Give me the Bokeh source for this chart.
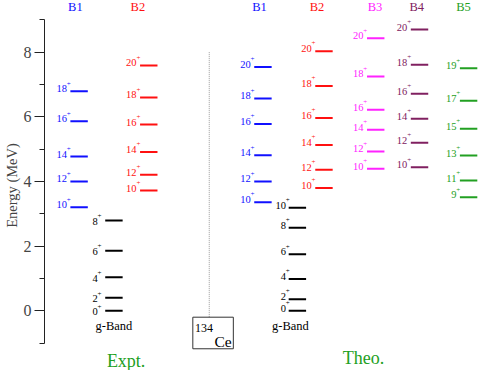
from bokeh.plotting import figure
from bokeh.models import Range1d, FixedTicker, ColumnDataSource
from bokeh.core.properties import value
from bokeh.embed import file_html
from bokeh.resources import INLINE

FONT = "'Liberation Serif'"
FONT_AX = "Times New Roman"
YFIX = -4.5   # correction of the alphabetic baseline placement (px)

# ---- level data (energies in MeV) ----
expt_g_spin = [0, 2, 4, 6, 8]
expt_g_E = [0.00, 0.40, 1.04, 1.86, 2.79]
expt_b1_spin = [10, 12, 14, 16, 18]
expt_b1_E = [3.20, 4.00, 4.77, 5.86, 6.79]
expt_b2_spin = [10, 12, 14, 16, 18, 20]
expt_b2_E = [3.72, 4.21, 4.91, 5.76, 6.60, 7.59]

theo_g_spin = [0, 2, 4, 6, 8, 10]
theo_g_E = [0.00, 0.36, 0.98, 1.75, 2.57, 3.19]
theo_b1_spin = [10, 12, 14, 16, 18, 20]
theo_b1_E = [3.36, 4.00, 4.81, 5.78, 6.57, 7.54]
theo_b2_spin = [10, 12, 14, 16, 18, 20]
theo_b2_E = [3.80, 4.36, 5.13, 5.96, 6.95, 8.03]
theo_b3_spin = [10, 12, 14, 16, 18, 20]
theo_b3_E = [4.39, 4.93, 5.60, 6.22, 7.25, 8.43]
theo_b4_spin = [10, 12, 14, 16, 18, 20]
theo_b4_E = [4.44, 5.20, 5.94, 6.71, 7.61, 8.70]
theo_b5_spin = [9, 11, 13, 15, 17, 19]
theo_b5_E = [3.51, 4.03, 4.80, 5.63, 6.50, 7.50]

y_ticks = [0, 2, 4, 6, 8]
y_minor = [-1, 1, 3, 5, 7, 9]

BLUE = "#1010ff"
RED = "#ff1010"
BLACK = "#000000"
MAG = "#ff22ff"
PURPLE = "#802060"
GREEN = "#22a022"

# name, line start x, colour, spins, energies, header x, label dx, label dy
bands = [
    ("B1", 68.0, BLUE, expt_b1_spin, expt_b1_E, 73.0, 0, 0),
    (None, 103.0, BLACK, expt_g_spin, expt_g_E, None, -4.0, 3.5),
    ("B2", 138.0, RED, expt_b2_spin, expt_b2_E, 135.8, 0, 0),
    ("B1", 252.7, BLUE, theo_b1_spin, theo_b1_E, 258.0, 0, 0),
    (None, 287.3, BLACK, theo_g_spin, theo_g_E, None, 0.8, 0),
    ("B2", 314.0, RED, theo_b2_spin, theo_b2_E, 315.8, 0, 0),
    ("B3", 366.0, MAG, theo_b3_spin, theo_b3_E, 374.0, 0, 0),
    ("B4", 410.0, PURPLE, theo_b4_spin, theo_b4_E, 416.0, 0, 0),
    ("B5", 459.3, GREEN, theo_b5_spin, theo_b5_E, 463.0, 0, 0),
]
LINE_LEN = 17.5

p = figure(width=479, height=370, output_backend="svg", toolbar_location=None,
           x_range=Range1d(42, 479), y_range=Range1d(-1.847, 9.598),
           x_axis_type=None, min_border_left=42, min_border_right=0,
           min_border_top=0, min_border_bottom=0)
p.outline_line_color = None
p.ygrid.grid_line_color = None
p.background_fill_color = "white"

ax = p.yaxis[0]
ax.bounds = (-1, 9)
ax.ticker = FixedTicker(ticks=y_ticks, minor_ticks=y_minor)
ax.axis_label = "Energy (MeV)"
ax.axis_label_text_font = FONT_AX
ax.axis_label_text_font_style = "normal"
ax.axis_label_text_font_size = "14.5px"
ax.axis_label_standoff = 1
ax.major_label_text_font = FONT_AX
ax.major_label_text_font_size = "16px"
ax.major_label_standoff = 3
ax.major_tick_in = 0
ax.major_tick_out = 10
ax.minor_tick_in = 0
ax.minor_tick_out = 5
ax.axis_line_color = "#222222"
ax.major_tick_line_color = "#222222"
ax.minor_tick_line_color = "#222222"


def txt(**kw):
    kw.setdefault("text_font", value(FONT))
    kw.setdefault("text_baseline", "alphabetic")
    return p.text(**kw)


for name, x0, col, spins, E, hx, ldx, ldy in bands:
    n = len(E)
    src = ColumnDataSource(dict(x0=[x0] * n, x1=[x0 + LINE_LEN] * n, y=E,
                                lab=[str(s) for s in spins]))
    p.segment("x0", "y", "x1", "y", source=src, line_color=col, line_width=2)
    txt(x="x0", y="y", text="lab", source=src, x_offset=-3.5 + ldx, y_offset=2 + ldy + YFIX,
        text_align="right", text_font_size="10.5px", text_color=col)
    txt(x="x0", y="y", text=value("+"), source=src, x_offset=-1.7 + ldx, y_offset=-7.7 + ldy,
        text_align="center", text_baseline="middle", text_font_size="7px", text_color=col)
    if name:
        txt(x=[hx], y=[9.27], text=[name], y_offset=YFIX, text_align="center",
            text_font_size="12.5px", text_color=col)

# g-Band captions
txt(x=[111.7, 289.0], y=[-0.61, -0.61], text=["g-Band", "g-Band"], y_offset=YFIX,
    text_align="center", text_font_size="12.5px", text_color=BLACK)
# Expt / Theo captions
txt(x=[124.0, 362.5], y=[-1.70, -1.59], text=["Expt.", "Theo."], y_offset=YFIX,
    text_align="center", text_font_size="18px", text_color=GREEN)

# separator and nucleus box
p.segment(x0=[207.5], y0=[8.0], x1=[207.5], y1=[-0.198], line_color="#999999",
          line_width=1, line_dash="1 1")
p.quad(left=[191.0], right=[231.7], top=[-0.198], bottom=[-1.175], fill_color=None,
       line_color="#333333", line_width=1)
txt(x=[193.3], y=[-0.662], text=["134"], y_offset=YFIX, text_align="left",
    text_font_size="12px", text_color=BLACK)
txt(x=[230.0], y=[-1.104], text=["Ce"], y_offset=YFIX, text_align="right",
    text_font_size="15.5px", text_color=BLACK)

open("out.html", "w").write(file_html(p, INLINE))
